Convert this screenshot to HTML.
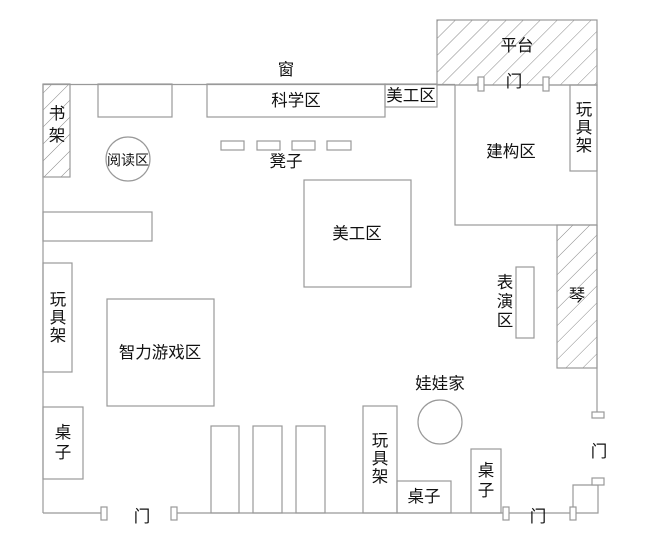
<!DOCTYPE html><html><head><meta charset="utf-8"><style>body{margin:0;background:#fff}svg{display:block}text{font-family:"Liberation Sans","Noto Sans CJK SC",sans-serif;font-size:16.5px;fill:#111;text-anchor:middle;dominant-baseline:central}</style></head><body>
<svg width="646" height="552" viewBox="0 0 646 552">
<defs><pattern id="h" width="12" height="12" patternUnits="userSpaceOnUse" patternTransform="rotate(45)"><line x1="0" y1="0" x2="0" y2="12" stroke="#888" stroke-width="1"/></pattern></defs>
<g fill="none" stroke="#999" stroke-width="1.2">
<rect x="437" y="20" width="160" height="65" fill="url(#h)"/>
<rect x="43" y="84" width="27" height="93" fill="url(#h)"/>
<rect x="557" y="225" width="40" height="143" fill="url(#h)"/>
<line x1="43" y1="84.5" x2="455" y2="84.5"/>
<line x1="43" y1="84" x2="43" y2="513"/>
<line x1="43" y1="513" x2="101" y2="513"/>
<line x1="177" y1="513" x2="503" y2="513"/>
<line x1="509" y1="513" x2="570" y2="513"/>
<line x1="597" y1="225" x2="597" y2="412"/>
<polyline points="573,507 573,485 598,485 598,513 576,513"/>
<rect x="98" y="84" width="74" height="33"/>
<rect x="207" y="84" width="178" height="33"/>
<rect x="385" y="84" width="52" height="23"/>
<rect x="221" y="141" width="23" height="9"/><rect x="257" y="141" width="23" height="9"/><rect x="292" y="141" width="23" height="9"/><rect x="327" y="141" width="24" height="9"/>
<circle cx="128" cy="159" r="22"/>
<rect x="43" y="212" width="109" height="29"/>
<rect x="455" y="85" width="142" height="140"/>
<rect x="570" y="85" width="27" height="86"/>
<rect x="478" y="77" width="6" height="14" fill="#fff"/><rect x="543" y="77" width="6" height="14" fill="#fff"/>
<rect x="304" y="180" width="107" height="107"/>
<rect x="516" y="267" width="18" height="71"/>
<rect x="43" y="263" width="29" height="109"/>
<rect x="107" y="299" width="107" height="107"/>
<rect x="43" y="407" width="40" height="72"/>
<rect x="211" y="426" width="28" height="87"/><rect x="253" y="426" width="29" height="87"/><rect x="296" y="426" width="29" height="87"/>
<rect x="363" y="406" width="34" height="107"/>
<rect x="397" y="481" width="54" height="32"/>
<circle cx="440" cy="422" r="22"/>
<rect x="471" y="449" width="30" height="64"/>
<rect x="101" y="507" width="6" height="13" fill="#fff"/><rect x="171" y="507" width="6" height="13" fill="#fff"/>
<rect x="503" y="507" width="6" height="13" fill="#fff"/><rect x="570" y="507" width="6" height="13" fill="#fff"/>
<rect x="592" y="412" width="12" height="6" fill="#fff"/><rect x="592" y="478" width="12" height="7" fill="#fff"/>
</g>
<text x="517" y="46">平台</text><text x="514" y="82">门</text>
<text x="286" y="70">窗</text><text x="296" y="101">科学区</text><text x="411" y="96">美工区</text>
<text x="286" y="162">凳子</text><text x="128" y="160" style="font-size:14px">阅读区</text>
<text x="57" y="114">书</text><text x="57" y="136">架</text>
<text x="511" y="152">建构区</text>
<text x="584" y="110">玩</text><text x="584" y="128">具</text><text x="584" y="146">架</text>
<text x="357" y="234">美工区</text>
<text x="505" y="283">表</text><text x="505" y="302">演</text><text x="505" y="321">区</text>
<text x="577" y="296">琴</text>
<text x="58" y="300">玩</text><text x="58" y="318">具</text><text x="58" y="336">架</text>
<text x="160" y="353">智力游戏区</text>
<text x="63" y="433">桌</text><text x="63" y="453">子</text>
<text x="440" y="384">娃娃家</text>
<text x="380" y="441">玩</text><text x="380" y="459">具</text><text x="380" y="477">架</text>
<text x="424" y="497">桌子</text>
<text x="486" y="471">桌</text><text x="486" y="491">子</text>
<text x="142" y="517">门</text><text x="538" y="517">门</text><text x="599" y="452">门</text>
</svg></body></html>
